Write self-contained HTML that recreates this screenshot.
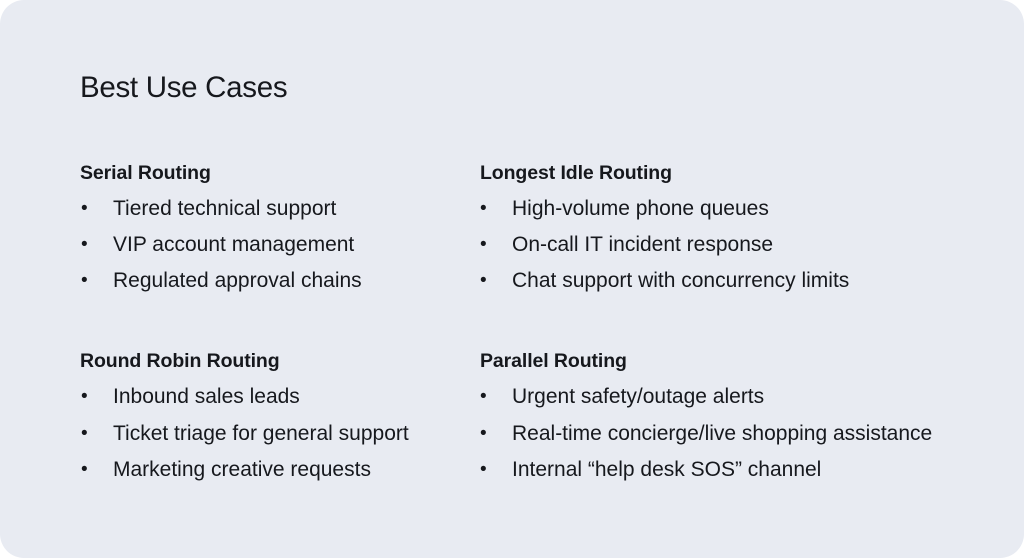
<!DOCTYPE html>
<html><head><meta charset="utf-8"><style>
html,body{margin:0;padding:0;background:#fff;}
.card{position:absolute;left:0;top:0;width:1024px;height:558px;background:#e8ebf2;border-radius:24px;font-family:"Liberation Sans",sans-serif;color:#16181d;}
.t{position:absolute;left:80px;top:71px;font-size:29.5px;letter-spacing:-0.3px;}
.h{position:absolute;font-size:19.5px;font-weight:600;letter-spacing:-0.1px;}
.i{position:absolute;font-size:21px;white-space:nowrap;}
.i b{position:absolute;left:-32px;font-weight:normal;font-size:19px;top:1px;}
</style></head><body><div class="card">
<div class="t">Best Use Cases</div>
<div class="h" style="left:80px;top:162px">Serial Routing</div>
<div class="i" style="left:113px;top:197px"><b>•</b>Tiered technical support</div>
<div class="i" style="left:113px;top:233px"><b>•</b>VIP account management</div>
<div class="i" style="left:113px;top:269px"><b>•</b>Regulated approval chains</div>
<div class="h" style="left:480px;top:162px">Longest Idle Routing</div>
<div class="i" style="left:512px;top:197px"><b>•</b>High-volume phone queues</div>
<div class="i" style="left:512px;top:233px"><b>•</b>On-call IT incident response</div>
<div class="i" style="left:512px;top:269px"><b>•</b>Chat support with concurrency limits</div>
<div class="h" style="left:80px;top:350px">Round Robin Routing</div>
<div class="i" style="left:113px;top:385px"><b>•</b>Inbound sales leads</div>
<div class="i" style="left:113px;top:422px"><b>•</b>Ticket triage for general support</div>
<div class="i" style="left:113px;top:458px"><b>•</b>Marketing creative requests</div>
<div class="h" style="left:480px;top:350px">Parallel Routing</div>
<div class="i" style="left:512px;top:385px"><b>•</b>Urgent safety/outage alerts</div>
<div class="i" style="left:512px;top:422px"><b>•</b>Real-time concierge/live shopping assistance</div>
<div class="i" style="left:512px;top:458px"><b>•</b>Internal “help desk SOS” channel</div>
</div></body></html>
